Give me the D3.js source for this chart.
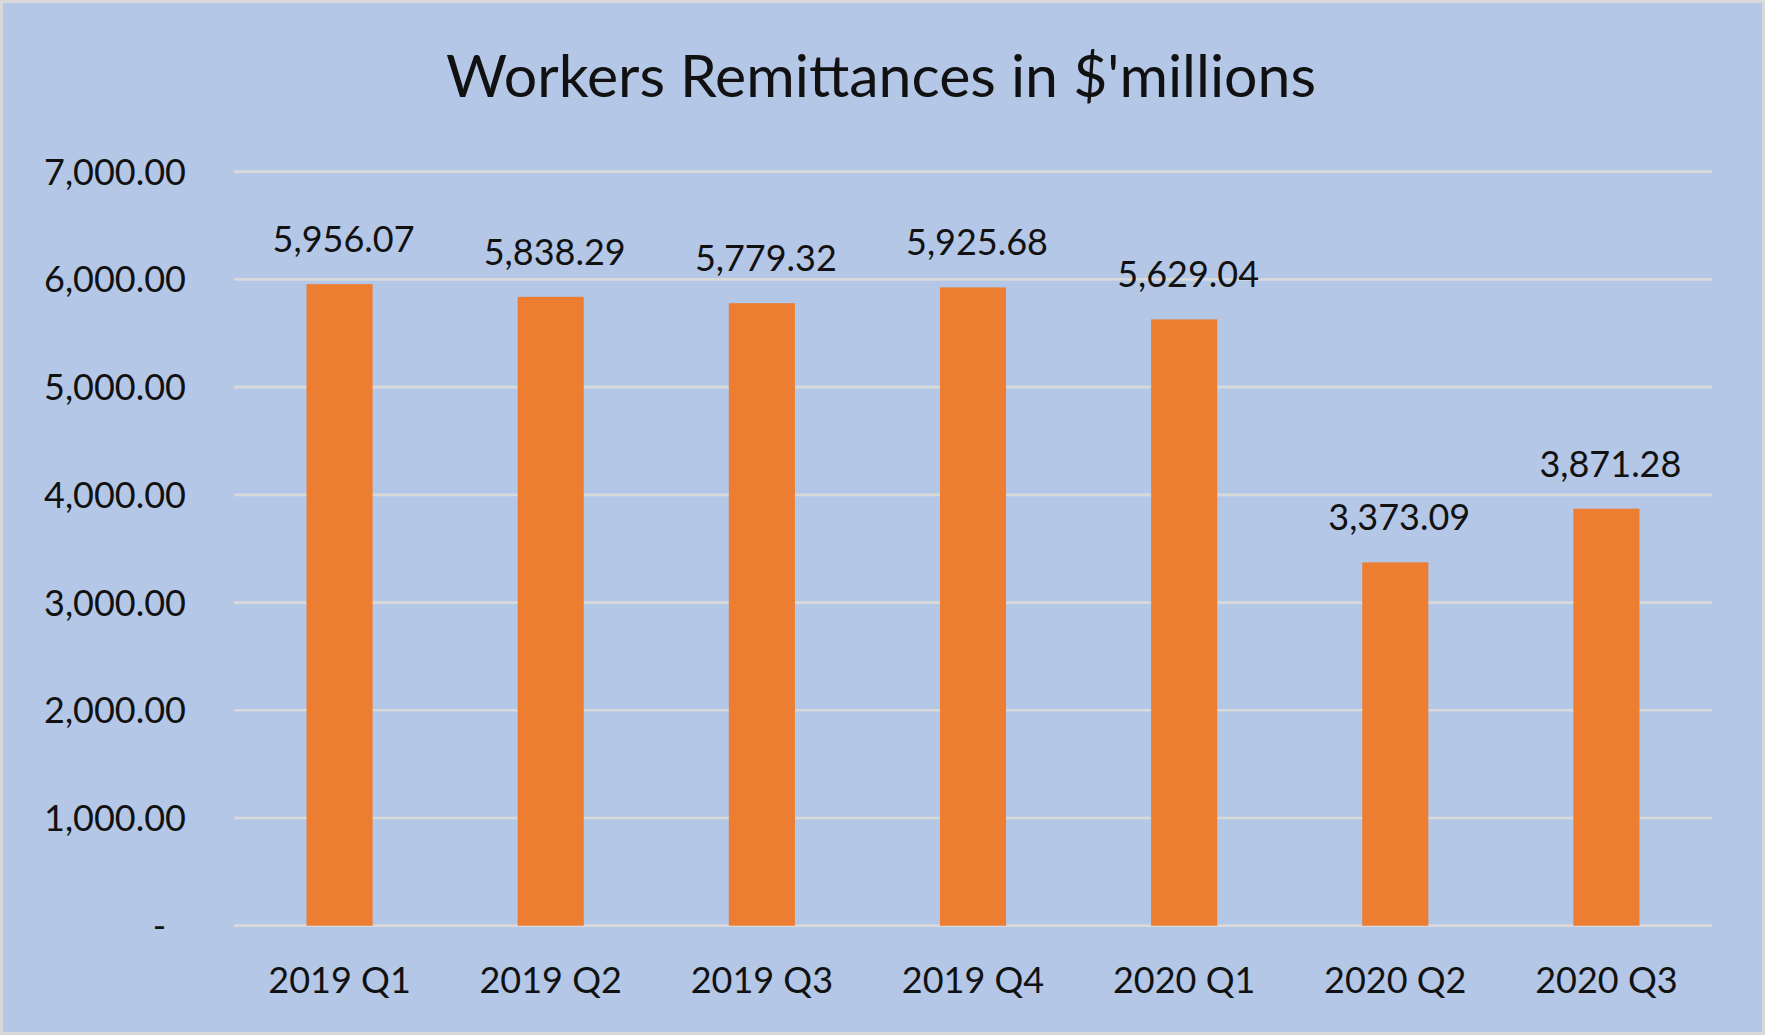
<!DOCTYPE html>
<html>
<head>
<meta charset="utf-8">
<script src="https://cdn.jsdelivr.net/npm/d3@7"></script>
<style>
  body { margin: 0; background: #fff; }
  text { font-family: Lato, "Open Sans", sans-serif; fill: #111; }
</style>
</head>
<body>
<script>
var quarters = ["2019 Q1", "2019 Q2", "2019 Q3", "2019 Q4", "2020 Q1", "2020 Q2", "2020 Q3"];
var remittances = [5956.07, 5838.29, 5779.32, 5925.68, 5629.04, 3373.09, 3871.28];
var yTicks = [0, 1000, 2000, 3000, 4000, 5000, 6000, 7000];
var title = "Workers Remittances in $'millions";

var w = 1765, h = 1035;
var plotLeft = 234, plotRight = 1712, plotTop = 171.7, plotBottom = 925.7;

var svg = d3.select("body").append("svg")
    .attr("width", w)
    .attr("height", h);

// chart area with grey frame
svg.append("rect")
    .attr("x", 1.5).attr("y", 1.5)
    .attr("width", w - 3).attr("height", h - 3)
    .attr("fill", "#B4C7E7")
    .attr("stroke", "#D9D9D9")
    .attr("stroke-width", 3);

var x = d3.scaleBand()
    .domain(quarters)
    .range([plotLeft, plotRight])
    .paddingInner(0.687)
    .paddingOuter(0.3435);

var y = d3.scaleLinear()
    .domain([0, 7000])
    .range([plotBottom, plotTop]);

var fmt = d3.format(",.2f");

// gridlines
svg.selectAll("line.grid")
    .data(yTicks)
    .enter()
    .append("line")
    .attr("class", "grid")
    .attr("x1", plotLeft)
    .attr("x2", plotRight)
    .attr("y1", function(d){ return y(d); })
    .attr("y2", function(d){ return y(d); })
    .attr("stroke", "#D9D9D9")
    .attr("stroke-width", 2.7);

// y tick labels
svg.selectAll("text.ytick")
    .data(yTicks)
    .enter()
    .append("text")
    .attr("class", "ytick")
    .attr("x", function(d){ return d === 0 ? 166 : 186; })
    .attr("y", function(d){ return y(d); })
    .attr("dy", "0.36em")
    .attr("text-anchor", "end")
    .attr("font-size", 36)
    .text(function(d){ return d === 0 ? "-" : fmt(d); });

// bars
svg.selectAll("rect.bar")
    .data(remittances)
    .enter()
    .append("rect")
    .attr("class", "bar")
    .attr("x", function(d, i){ return x(quarters[i]); })
    .attr("y", function(d){ return y(d); })
    .attr("width", x.bandwidth())
    .attr("height", function(d){ return y(0) - y(d); })
    .attr("fill", "#ED7D31");

// value labels
svg.selectAll("text.val")
    .data(remittances)
    .enter()
    .append("text")
    .attr("class", "val")
    .attr("x", function(d, i){ return x(quarters[i]) + x.bandwidth() / 2 + 4; })
    .attr("y", function(d){ return y(d) - 32; })
    .attr("text-anchor", "middle")
    .attr("font-size", 36)
    .text(function(d){ return fmt(d); });

// category labels
svg.selectAll("text.cat")
    .data(quarters)
    .enter()
    .append("text")
    .attr("class", "cat")
    .attr("x", function(d){ return x(d) + x.bandwidth() / 2; })
    .attr("y", 993)
    .attr("text-anchor", "middle")
    .attr("font-size", 36)
    .text(function(d){ return d; });

svg.append("text")
    .attr("x", 881)
    .attr("y", 97)
    .attr("text-anchor", "middle")
    .attr("font-size", 59)
    .text(title);
</script>
</body>
</html>
